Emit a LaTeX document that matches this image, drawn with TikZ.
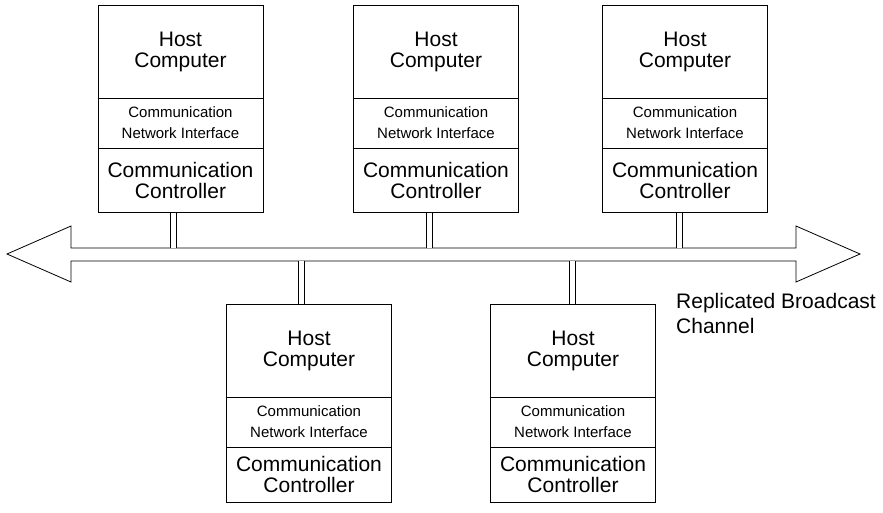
\documentclass[tikz,border=0pt]{standalone}
\usepackage{fontspec}
\setmainfont{Liberation Sans}
\usetikzlibrary{positioning}

\begin{document}
\begin{tikzpicture}[x=1pt, y=-1pt,
  host/.style={draw, line width=1pt, outer sep=0pt, inner sep=0pt, minimum width=165pt, minimum height=93pt, align=center, font=\fontsize{21}{21}\selectfont},
  nif/.style={draw, line width=1pt, outer sep=0pt, inner sep=0pt, minimum width=165pt, minimum height=50pt, align=center, font=\fontsize{15}{21}\selectfont},
  ctrl/.style={draw, line width=1pt, outer sep=0pt, inner sep=0pt, minimum width=165pt, minimum height=64pt, align=center, font=\fontsize{21}{21}\selectfont},
  stub/.style={double, double distance=4.8pt, line width=0.8pt, shorten <=0.5pt, shorten >=0.4pt},
  chanlabel/.style={inner sep=0pt, align=left, font=\fontsize{21}{25}\selectfont}
]
\useasboundingbox (0,0) rectangle (883,512);

% upper row of stations
\node[host] (h1) at (180.5,51.5) {Host\\Computer};
\node[nif, below=0pt of h1] (n1) {Communication\\Network Interface};
\node[ctrl, below=0pt of n1] (c1) {Communication\\Controller};

\node[host] (h2) at (436,51.5) {Host\\Computer};
\node[nif, below=0pt of h2] (n2) {Communication\\Network Interface};
\node[ctrl, below=0pt of n2] (c2) {Communication\\Controller};

\node[host] (h3) at (685,51.5) {Host\\Computer};
\node[nif, below=0pt of h3] (n3) {Communication\\Network Interface};
\node[ctrl, below=0pt of n3] (c3) {Communication\\Controller};

% lower row of stations
\node[host] (h4) at (309,350.5) {Host\\Computer};
\node[nif, below=0pt of h4] (n4) {Communication\\Network Interface};
\node[ctrl, below=0pt of n4, minimum height=55pt] (c4) {Communication\\Controller};

\node[host] (h5) at (573,350.5) {Host\\Computer};
\node[nif, below=0pt of h5] (n5) {Communication\\Network Interface};
\node[ctrl, below=0pt of n5, minimum height=55pt] (c5) {Communication\\Controller};

% broadcast channel
\coordinate (busN) at (0,248);
\coordinate (busS) at (0,261);
\draw[line width=0.8pt] (7,254) -- (71,226) -- (71,248) -- (796,248) -- (796,226) -- (860,254)
  -- (796,282) -- (796,261) -- (71,261) -- (71,282) -- cycle;
\node[chanlabel, anchor=north west] (chan) at (676,293) {Replicated Broadcast\\Channel};

\draw[stub] ([xshift=-7pt]c1.south) -- ([xshift=-7pt]c1.south |- busN);
\draw[stub] ([xshift=-6.5pt]c2.south) -- ([xshift=-6.5pt]c2.south |- busN);
\draw[stub] ([xshift=-5.5pt]c3.south) -- ([xshift=-5.5pt]c3.south |- busN);
\draw[stub] ([xshift=-7.5pt]h4.north) -- ([xshift=-7.5pt]h4.north |- busS);
\draw[stub] ([xshift=-0.5pt]h5.north) -- ([xshift=-0.5pt]h5.north |- busS);
\end{tikzpicture}
\end{document}
